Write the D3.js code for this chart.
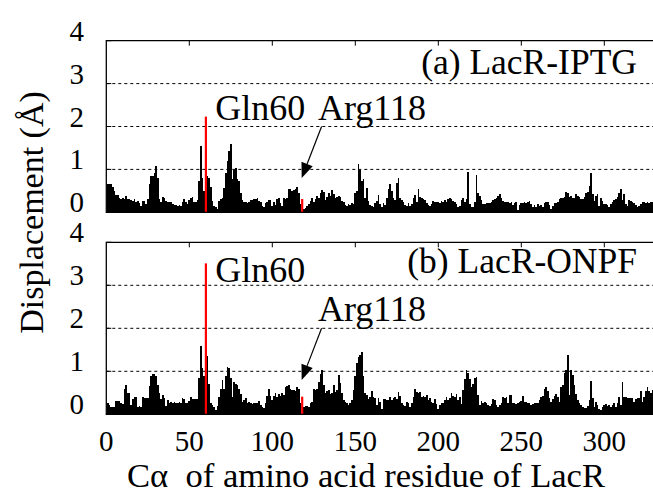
<!DOCTYPE html>
<html>
<head>
<meta charset="utf-8">
<script src="https://cdn.jsdelivr.net/npm/d3@7"></script>
<style>
  body { margin: 0; background: #fff; }
</style>
</head>
<body>
<div id="chart"></div>
<script>
// displacement per residue (1..329)
const iptg = [
  0.67,0.67,0.65,0.58,0.5,0.41,0.41,0.33,0.31,0.33,
  0.31,0.38,0.31,0.31,0.28,0.27,0.31,0.25,0.27,0.21,
  0.15,0.27,0.27,0.19,0.31,0.65,0.85,0.85,0.92,1.09,
  0.81,0.31,0.23,0.36,0.33,0.27,0.25,0.23,0.23,0.19,
  0.18,0.18,0.15,0.17,0.15,0.23,0.31,0.23,0.19,0.28,
  0.33,0.36,0.23,0.25,0.28,0.72,1.55,0.81,0.5,2.23,
  0.85,0.81,0.58,0.27,0.15,0.12,0.08,0.27,0.31,0.33,
  0.56,0.92,1.19,1.42,1.6,0.77,0.98,1.04,0.77,0.72,
  0.46,0.28,0.25,0.23,0.21,0.25,0.28,0.28,0.31,0.31,
  0.33,0.27,0.25,0.15,0.12,0.21,0.23,0.28,0.28,0.15,
  0.23,0.18,0.31,0.33,0.21,0.15,0.33,0.31,0.33,0.54,
  0.54,0.5,0.52,0.54,0.59,0.46,0.19,0.31,0.08,0.1,
  0.15,0.19,0.27,0.33,0.23,0.31,0.38,0.33,0.46,0.52,
  0.48,0.28,0.36,0.44,0.38,0.53,0.42,0.33,0.36,0.38,
  0.36,0.27,0.23,0.18,0.15,0.19,0.18,0.21,0.19,0.46,
  0.5,1.13,0.98,0.73,0.77,0.33,0.56,0.27,0.18,0.15,
  0.12,0.21,0.27,0.41,0.19,0.13,0.21,0.18,0.33,0.54,
  0.67,0.5,0.33,0.28,0.69,0.81,0.33,0.28,0.23,0.18,
  0.15,0.21,0.15,0.19,0.33,0.41,0.23,0.54,0.36,0.33,
  0.31,0.28,0.21,0.18,0.15,0.19,0.27,0.25,0.23,0.25,
  0.21,0.27,0.25,0.28,0.23,0.31,0.33,0.31,0.27,0.23,
  0.19,0.12,0.15,0.28,0.33,0.25,0.3,0.94,0.2,0.12,
  0.12,0.25,0.86,0.46,0.38,0.28,0.19,0.19,0.22,0.22,
  0.22,0.23,0.28,0.31,0.33,0.38,0.42,0.33,0.27,0.25,
  0.23,0.25,0.21,0.23,0.18,0.21,0.25,0.05,0.18,0.21,
  0.21,0.23,0.21,0.23,0.27,0.19,0.12,0.18,0.13,0.19,
  0.15,0.18,0.13,0.21,0.23,0.25,0.18,0.08,0.15,0.22,
  0.22,0.23,0.31,0.33,0.33,0.36,0.48,0.46,0.36,0.38,
  0.33,0.33,0.42,0.38,0.36,0.31,0.3,0.36,0.46,0.47,
  0.62,0.92,0.42,0.27,0.38,0.42,0.15,0.33,0.27,0.19,
  0.19,0.18,0.13,0.19,0.23,0.28,0.31,0.36,0.46,0.55,
  0.28,0.42,0.19,0.15,0.28,0.27,0.25,0.21,0.18,0.12,
  0.15,0.19,0.23,0.23,0.21,0.25,0.21,0.25,0.25
];
const onpf = [
  0.27,0.22,0.16,0.16,0.16,0.32,0.32,0.3,0.27,0.24,
  0.58,0.68,0.5,0.49,0.22,0.35,0.4,0.41,0.18,0.19,
  0.16,0.4,0.37,0.37,0.37,0.66,0.89,0.93,0.94,0.88,
  0.68,0.5,0.35,0.45,0.39,0.19,0.33,0.27,0.29,0.27,
  0.29,0.27,0.26,0.29,0.26,0.37,0.35,0.26,0.27,0.32,
  0.4,0.35,0.35,0.35,0.35,0.84,1.6,1.07,0.88,3.51,
  1.36,0.7,0.27,0.22,0.16,0.1,0.19,0.41,0.6,0.8,
  0.6,0.88,1.09,1.07,0.84,0.41,0.74,0.71,0.68,0.6,
  0.47,0.29,0.33,0.37,0.26,0.29,0.26,0.24,0.26,0.26,
  0.27,0.32,0.22,0.16,0.14,0.26,0.43,0.58,0.43,0.33,
  0.43,0.49,0.4,0.47,0.43,0.5,0.45,0.64,0.66,0.67,
  0.58,0.57,0.57,0.55,0.63,0.6,0.26,0.41,0.16,0.19,
  0.19,0.16,0.26,0.29,0.6,0.57,0.6,0.76,0.94,1.03,
  0.68,0.5,0.54,0.57,0.47,0.5,0.68,0.53,0.57,0.91,
  0.72,0.5,0.33,0.29,0.27,0.22,0.26,0.33,0.57,0.88,
  1.19,1.34,1.38,1.44,0.89,0.5,0.45,0.35,0.41,0.55,
  0.4,0.37,0.22,0.37,0.29,0.12,0.35,0.35,0.33,0.33,
  0.4,0.33,0.37,0.41,0.35,0.53,0.43,0.27,0.22,0.19,
  0.29,0.27,0.16,0.27,0.41,0.58,0.53,0.49,0.53,0.4,
  0.43,0.4,0.45,0.33,0.37,0.29,0.27,0.35,0.24,0.12,
  0.22,0.26,0.27,0.33,0.4,0.33,0.37,0.5,0.43,0.41,
  0.47,0.33,0.41,0.24,0.57,0.81,1.02,0.95,0.81,0.64,
  0.7,0.84,0.86,0.45,0.22,0.31,0.26,0.29,0.27,0.22,
  0.19,0.23,0.35,0.33,0.22,0.18,0.22,0.26,0.4,0.37,
  0.41,0.26,0.45,0.45,0.26,0.26,0.24,0.26,0.29,0.32,
  0.43,0.29,0.29,0.27,0.27,0.22,0.24,0.26,0.26,0.26,
  0.33,0.4,0.43,0.6,0.64,0.55,0.37,0.29,0.35,0.43,
  0.47,0.41,0.29,0.64,0.68,0.95,1.03,1.38,0.45,1.03,
  0.91,0.68,0.47,0.33,0.26,0.22,0.16,0.14,0.14,0.19,
  0.33,0.78,0.37,0.18,0.29,0.22,0.12,0.1,0.18,0.22,
  0.23,0.19,0.22,0.16,0.22,0.27,0.16,0.26,0.41,0.22,
  0.76,0.4,0.4,0.37,0.37,0.37,0.37,0.29,0.35,0.37,
  0.37,0.55,0.29,0.41,0.55,0.64,0.55,0.5,0.57
];
const highlighted = [60, 118];
const highlightNames = ["Gln60", "Arg118"];
const panelTitles = ["(a) LacR-IPTG", "(b) LacR-ONPF"];
const yTicks = [0, 1, 2, 3, 4];
const xTicks = [0, 50, 100, 150, 200, 250, 300];

const width = 653;
const height = 495;
const left = 106.3;
const right = 654.1;
const serif = "'Liberation Serif', 'Times New Roman', serif";

const svg = d3.select("#chart").append("svg")
  .attr("width", width)
  .attr("height", height)
  .attr("font-family", serif);

const x = d3.scaleLinear().domain([0, 330]).range([left, right]);
const step = x(1) - x(0);

const panels = [
  {values: iptg, title: panelTitles[0], top: 40.7, bottom: 212.3,
   gln: 2.14, arg: 2.14, titleAt: 3.23},
  {values: onpf, title: panelTitles[1], top: 242.3, bottom: 414.3,
   gln: 3.08, arg: 2.17, titleAt: 3.28}
];

const addText = (sel, size) => sel.append("text")
  .style("font-family", serif)
  .style("font-size", size + "px")
  .attr("fill", "#000");

const drawPanel = (p) => {
  const y = d3.scaleLinear().domain([0, 4]).range([p.bottom, p.top]);
  const g = svg.append("g");

  // grid
  g.selectAll(".grid").data([1, 2, 3]).join("line")
    .attr("x1", left).attr("x2", width)
    .attr("y1", d => y(d)).attr("y2", d => y(d))
    .attr("stroke", "#000").attr("stroke-width", 1)
    .attr("stroke-dasharray", "3,3");

  const rows = p.values.map((v, i) => ({res: i + 1, v}));

  g.selectAll(".bar").data(rows.filter(d => !highlighted.includes(d.res))).join("rect")
    .attr("x", d => x(d.res) - step * 0.5)
    .attr("width", step)
    .attr("y", d => y(d.v))
    .attr("height", d => y(0) - y(d.v))
    .attr("fill", "#000")
    .attr("shape-rendering", "crispEdges");

  g.selectAll(".hl").data(rows.filter(d => highlighted.includes(d.res))).join("rect")
    .attr("x", d => x(d.res) - 1.1)
    .attr("width", 2.2)
    .attr("y", d => y(d.v))
    .attr("height", d => y(0) - y(d.v))
    .attr("fill", "#ff0000");

  // frame
  g.append("path")
    .attr("d", `M${width},${p.top}H${left}V${p.bottom}H${width}`)
    .attr("fill", "none").attr("stroke", "#000").attr("stroke-width", 1.3);

  // top ticks
  g.selectAll(".tt").data(xTicks.slice(1)).join("line")
    .attr("x1", d => x(d)).attr("x2", d => x(d))
    .attr("y1", p.top).attr("y2", p.top + 5)
    .attr("stroke", "#000");

  // left ticks
  g.selectAll(".lt").data(yTicks).join("line")
    .attr("x1", left).attr("x2", left + 5)
    .attr("y1", d => y(d)).attr("y2", d => y(d))
    .attr("stroke", "#000");

  yTicks.forEach(t => {
    addText(g, 29)
      .attr("x", 84)
      .attr("y", y(t))
      .attr("text-anchor", "end")
      .text(t);
  });

  addText(g, 35.5)
    .attr("x", x(319.7)).attr("y", y(p.titleAt))
    .attr("text-anchor", "end")
    .text(p.title);

  addText(g, 36)
    .attr("x", x(65.6)).attr("y", y(p.gln))
    .text(highlightNames[0]);

  addText(g, 36)
    .attr("x", x(127.5)).attr("y", y(p.arg))
    .text(highlightNames[1]);

  // arrow to Arg118
  const x0 = x(129.7), y0 = y(2.0), x1 = x(117.7), y1 = y(0.8);
  const ang = Math.atan2(y1 - y0, x1 - x0);
  const len = 15, hw = 6;
  const bx = x1 - len * Math.cos(ang), by = y1 - len * Math.sin(ang);
  g.append("line")
    .attr("x1", x0).attr("y1", y0).attr("x2", bx).attr("y2", by)
    .attr("stroke", "#000").attr("stroke-width", 1.2);
  g.append("path")
    .attr("d", `M${x1},${y1}L${bx + hw * Math.sin(ang)},${by - hw * Math.cos(ang)}L${bx - hw * Math.sin(ang)},${by + hw * Math.cos(ang)}Z`)
    .attr("fill", "#000");
};

panels.forEach(drawPanel);

// x tick labels
xTicks.forEach(t => {
  addText(svg, 29)
    .attr("x", x(t))
    .attr("y", 451)
    .attr("text-anchor", "middle")
    .text(t);
});

addText(svg, 34.6)
  .attr("x", 366).attr("y", 487)
  .attr("text-anchor", "middle")
  .style("white-space", "pre")
  .text("C\u03b1  of amino acid residue of LacR");

addText(svg, 34)
  .attr("transform", "translate(43,212.5) rotate(-90)")
  .attr("text-anchor", "middle")
  .text("Displacement (\u00c5)");
</script>
</body>
</html>
